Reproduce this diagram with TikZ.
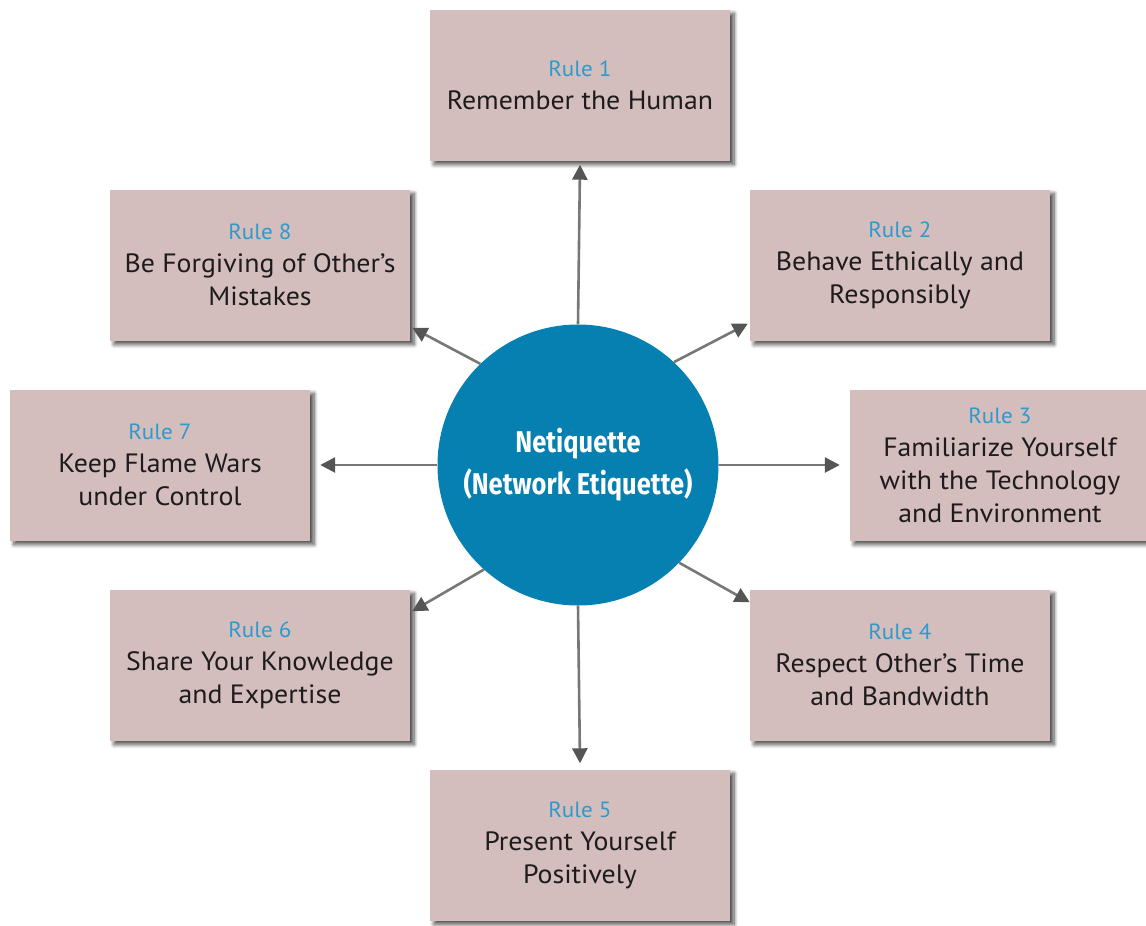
\documentclass[tikz,border=0pt]{standalone}
\usepackage{fontspec}
\setmainfont[FakeStretch=1.05]{PT Sans}
\newfontfamily\centerfont[FakeStretch=0.85]{Fira Sans}
\usetikzlibrary{arrows.meta,calc,shadows.blur}
\definecolor{boxfill}{HTML}{D3BDBD}
\definecolor{circfill}{HTML}{0680B0}
\definecolor{rulecol}{HTML}{2E9ACB}
\definecolor{txtcol}{HTML}{1E1B1C}
\definecolor{arrline}{HTML}{777777}
\definecolor{arrhead}{HTML}{555555}
\newcommand{\rulelabel}[1]{{\color{rulecol}\fontsize{22}{33}\selectfont #1}}
\tikzset{
  rulebox/.style={rectangle, fill=boxfill, minimum width=300pt, minimum height=151pt,
    inner sep=0pt, align=center, text=txtcol, font=\fontsize{26.5}{33}\selectfont,
    blur shadow={shadow xshift=4pt, shadow yshift=-4pt, shadow blur steps=8,
      shadow blur radius=4pt, shadow opacity=70}},
  hub/.style={circle, fill=circfill, minimum size=281pt, inner sep=0pt, align=center,
    text=white, font=\centerfont\bfseries\fontsize{30}{42}\selectfont},
  conn/.style={draw=arrline, line width=2.6pt,
    -{Triangle[length=15pt,width=15pt,fill=arrhead,color=arrhead]}}
}
\begin{document}
\begin{tikzpicture}[x=1pt,y=-1pt]
\useasboundingbox (0,0) rectangle (1146,926);
\node[rulebox] (r1) at (580,85)  {\rulelabel{Rule 1}\\Remember the Human};
\node[rulebox] (r2) at (900,265) {\rulelabel{Rule 2}\\Behave Ethically and\\Responsibly};
\node[rulebox] (r3) at (1000,465) {\rulelabel{Rule 3}\\Familiarize Yourself\\with the Technology\\and Environment};
\node[rulebox] (r4) at (900,665) {\rulelabel{Rule 4}\\Respect Other’s Time\\and Bandwidth};
\node[rulebox] (r5) at (580,845) {\rulelabel{Rule 5}\\Present Yourself\\Positively};
\node[rulebox] (r6) at (260,665) {\rulelabel{Rule 6}\\Share Your Knowledge\\and Expertise};
\node[rulebox] (r7) at (160,465) {\rulelabel{Rule 7}\\Keep Flame Wars\\under Control};
\node[rulebox] (r8) at (260,265) {\rulelabel{Rule 8}\\Be Forgiving of Other’s\\Mistakes};
\node[hub] (c) at (578,465) {Netiquette\\(Network Etiquette)};
\coordinate (t1) at ($(r1.south)+(0,4)$);
\coordinate (t2) at ($(r2.south west)+(-2,-17)$);
\coordinate (t3) at ($(r3.west)+(-10,0)$);
\coordinate (t4) at ($(r4.north west)+(0,13)$);
\coordinate (t5) at ($(r5.north)+(0,-6)$);
\coordinate (t6) at ($(r6.north east)+(2,22)$);
\coordinate (t7) at ($(r7.east)+(10,0)$);
\coordinate (t8) at ($(r8.south east)+(2,-13)$);
\draw[conn] (c.north) -- (t1);
\draw[conn] (c.47) -- (t2);
\draw[conn] (c.east) -- (t3);
\draw[conn] (c.-44) -- (t4);
\draw[conn] (c.south) -- (t5);
\draw[conn] (c.-132) -- (t6);
\draw[conn] (c.west) -- (t7);
\draw[conn] (c.134) -- (t8);
\end{tikzpicture}
\end{document}
